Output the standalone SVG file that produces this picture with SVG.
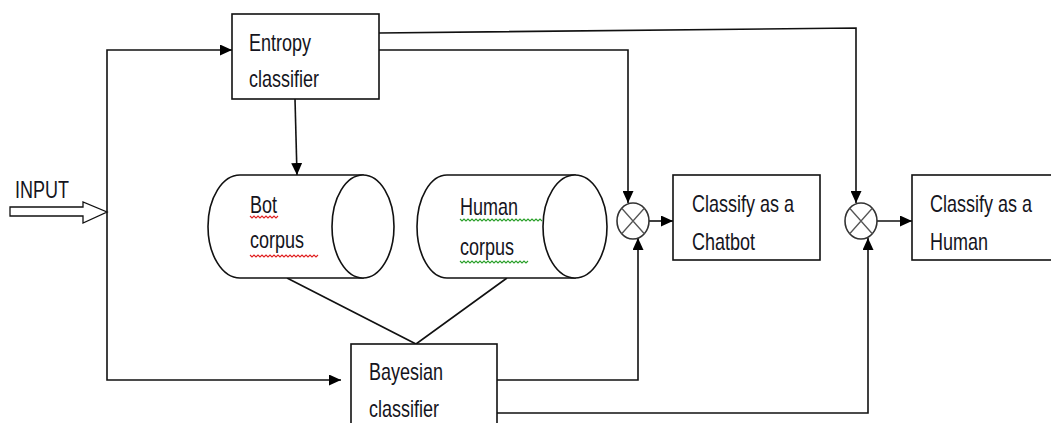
<svg xmlns="http://www.w3.org/2000/svg" width="1051" height="423" viewBox="0 0 1051 423">
<style>
.box{fill:#fff;stroke:#111;stroke-width:1.6}
.ln{fill:none;stroke:#111;stroke-width:1.6}
.t{font-family:"Liberation Sans",Arial,sans-serif;font-size:18px;fill:#141420}
.sq{fill:none;stroke-width:1.1}
</style>
<defs>
<marker id="ah" viewBox="0 0 12 11" refX="12" refY="5.5" markerWidth="12" markerHeight="11" markerUnits="userSpaceOnUse" orient="auto">
<path d="M0,0 L12,5.5 L0,11 Z" fill="#000"/>
</marker>
</defs>
<rect width="1051" height="423" fill="#fff"/>

<g id="connectors">
<path class="ln" d="M107,212 V380 H341" marker-end="url(#ah)"/>
<path class="ln" d="M107,212 V50 H232" marker-end="url(#ah)"/>
<path class="ln" d="M295,99 L297,175" marker-end="url(#ah)"/>
<path class="ln" d="M379,33 L856,28 V203" marker-end="url(#ah)"/>
<path class="ln" d="M379,50 H628 V203" marker-end="url(#ah)"/>
<path class="ln" d="M497,380 H638 V238" marker-end="url(#ah)"/>
<path class="ln" d="M497,413 H868 V238" marker-end="url(#ah)"/>
<path class="ln" d="M649,221 H673" marker-end="url(#ah)"/>
<path class="ln" d="M877,221 H912" marker-end="url(#ah)"/>
<path class="ln" d="M287,278 L416,344 L507,278"/>
</g>

<g id="input">
<path d="M10,207 H83 V202 L107,212 L83,223 V216 H10 Z" fill="#fff" stroke="#111" stroke-width="1.3"/>
<text class="t" font-size="19" transform="translate(15,198) scale(1,1.3)">INPUT</text>
</g>

<g id="entropy">
<rect class="box" x="232" y="14" width="147" height="85"/>
<text class="t" transform="translate(249,51) scale(1,1.3)">Entropy</text>
<text class="t" transform="translate(249,87) scale(1,1.3)">classifier</text>
</g>

<g id="bot-corpus">
<path class="box" d="M240,175 H363 V278 H240 A32,51.5 0 0 1 240,175 Z"/>
<ellipse class="box" cx="363" cy="226.5" rx="31" ry="51.5"/>
<text class="t" transform="translate(250,213) scale(1,1.3)">Bot</text>
<text class="t" transform="translate(250,248) scale(1,1.3)">corpus</text>
<path class="sq" stroke="#e02020" d="M250,216 l2,2 l2,-2 l2,2 l2,-2 l2,2 l2,-2 l2,2 l2,-2 l2,2 l2,-2 l2,2 l2,-2 l2,2 l2,-2"/>
<path class="sq" stroke="#e02020" d="M250,255 l2,2 l2,-2 l2,2 l2,-2 l2,2 l2,-2 l2,2 l2,-2 l2,2 l2,-2 l2,2 l2,-2 l2,2 l2,-2 l2,2 l2,-2 l2,2 l2,-2 l2,2 l2,-2 l2,2 l2,-2 l2,2 l2,-2 l2,2 l2,-2 l2,2 l2,-2 l2,2 l2,-2 l2,2 l2,-2 l2,2 l2,-2"/>
</g>

<g id="human-corpus">
<path class="box" d="M447,175 H575 V278 H447 A30,51.5 0 0 1 447,175 Z"/>
<ellipse class="box" cx="575" cy="226.5" rx="32" ry="51.5"/>
<text class="t" font-size="19" transform="translate(460,215) scale(1,1.3)">Human</text>
<text class="t" font-size="19" transform="translate(460,255) scale(1,1.3)">corpus</text>
<path class="sq" stroke="#2aa02a" d="M460,219 l2,2 l2,-2 l2,2 l2,-2 l2,2 l2,-2 l2,2 l2,-2 l2,2 l2,-2 l2,2 l2,-2 l2,2 l2,-2 l2,2 l2,-2 l2,2 l2,-2 l2,2 l2,-2 l2,2 l2,-2 l2,2 l2,-2 l2,2 l2,-2 l2,2 l2,-2 l2,2 l2,-2 l2,2 l2,-2 l2,2 l2,-2 l2,2 l2,-2 l2,2 l2,-2 l2,2 l2,-2 l2,2"/>
<path class="sq" stroke="#2aa02a" d="M460,261 l2,2 l2,-2 l2,2 l2,-2 l2,2 l2,-2 l2,2 l2,-2 l2,2 l2,-2 l2,2 l2,-2 l2,2 l2,-2 l2,2 l2,-2 l2,2 l2,-2 l2,2 l2,-2 l2,2 l2,-2 l2,2 l2,-2 l2,2 l2,-2 l2,2 l2,-2 l2,2 l2,-2 l2,2 l2,-2 l2,2 l2,-2"/>
</g>

<g id="bayesian">
<rect class="box" x="351" y="344" width="146" height="90"/>
<text class="t" font-size="18.5" transform="translate(369,380) scale(1,1.3)">Bayesian</text>
<text class="t" font-size="18.5" transform="translate(369,417) scale(1,1.3)">classifier</text>
</g>

<g id="mult-chatbot">
<ellipse cx="633" cy="221" rx="16" ry="18" fill="#fff" stroke="#333" stroke-width="1.6"/>
<path d="M621.7,208.3 L644.3,233.7 M644.3,208.3 L621.7,233.7" stroke="#555" stroke-width="1.3"/>
</g>

<g id="mult-human">
<ellipse cx="861" cy="221" rx="16" ry="18" fill="#fff" stroke="#333" stroke-width="1.6"/>
<path d="M849.7,208.3 L872.3,233.7 M872.3,208.3 L849.7,233.7" stroke="#555" stroke-width="1.3"/>
</g>

<g id="chatbot">
<rect class="box" x="673" y="175" width="147" height="85"/>
<text class="t" transform="translate(692,212) scale(1,1.3)">Classify as a</text>
<text class="t" transform="translate(692,250) scale(1,1.3)">Chatbot</text>
</g>

<g id="human">
<rect class="box" x="912" y="175" width="160" height="85"/>
<text class="t" transform="translate(930,212) scale(1,1.3)">Classify as a</text>
<text class="t" transform="translate(930,250) scale(1,1.3)">Human</text>
</g>
</svg>
